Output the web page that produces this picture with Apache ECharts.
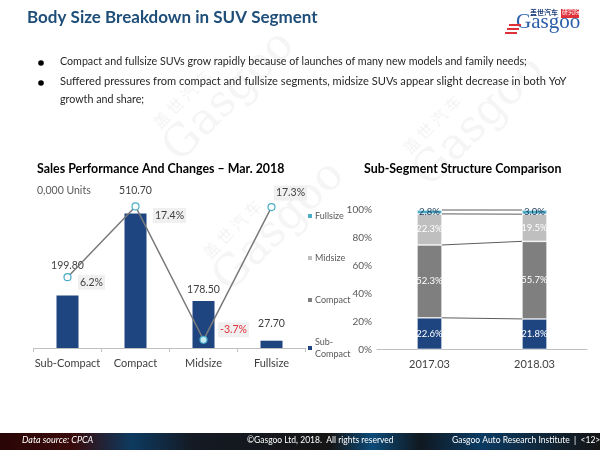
<!DOCTYPE html>
<html><head><meta charset="utf-8">
<script src="https://cdn.jsdelivr.net/npm/echarts@6/dist/echarts.min.js"></script>
<style>html,body{margin:0;padding:0;background:#fff}#c{width:600px;height:450px}</style>
</head><body><div id="c"></div>
<script>
// ---- data ----
var categories = ['Sub-Compact', 'Compact', 'Midsize', 'Fullsize'];
var salesValues = [199.80, 510.70, 178.50, 27.70];      // 0,000 units
var growthValues = [6.2, 17.4, -3.7, 17.3];             // YoY %
var years = ['2017.03', '2018.03'];
var shareSubCompact = [22.6, 21.8];
var shareCompact = [52.3, 55.7];
var shareMidsize = [22.3, 19.5];
var shareFullsize = [2.8, 3.0];
var shareTicks = ['0%', '20%', '40%', '60%', '80%', '100%'];

// ---- styles (not data) ----
var barLabelDist = [24, 17, 6, 12];
var growthLabelOffset = [[24, 5], [34, 9], [30, -10], [19, -14]];
var FONT = 'Lato, "Open Sans", sans-serif';
var NAVY = '#1f4580', GRAY = '#7f7f7f', LGRAY = '#bfbfbf', CYAN = '#4bacc6';

var chart = echarts.init(document.getElementById('c'), null, {renderer: 'canvas'});

var shareSeries = [
  {name: 'Sub-Compact', vals: shareSubCompact, color: NAVY, lc: '#ffffff'},
  {name: 'Compact', vals: shareCompact, color: GRAY, lc: '#ffffff'},
  {name: 'Midsize', vals: shareMidsize, color: LGRAY, lc: '#ffffff'},
  {name: 'Fullsize', vals: shareFullsize, color: CYAN, lc: '#1f3a5a'}
];
// cumulative boundaries for series lines
var cum = [0, 0];
var boundaries = [];
shareSeries.forEach(function (s) {
  cum = [cum[0] + s.vals[0], cum[1] + s.vals[1]];
  boundaries.push([0, cum[0], cum[1]]);
});

var series = [
  {
    type: 'bar', name: 'sales', xAxisIndex: 0, yAxisIndex: 0,
    data: salesValues.map(function (v, i) {
      return {value: v, label: {distance: barLabelDist[i]}};
    }),
    barWidth: 22, itemStyle: {color: NAVY},
    label: {show: true, position: 'top', formatter: function (p) { return p.value.toFixed(2); },
      fontFamily: FONT, fontSize: 10.5, color: '#404040'}
  },
  {
    type: 'line', name: 'growth', xAxisIndex: 0, yAxisIndex: 1,
    data: growthValues.map(function (v, i) {
      return {value: v, label: {offset: growthLabelOffset[i], color: v < 0 ? '#e0303a' : '#404040'},
        itemStyle: v < 0 ? {color: '#c8ecf5'} : undefined};
    }),
    lineStyle: {color: '#7a7a7a', width: 1.5},
    symbol: 'circle', symbolSize: 7,
    itemStyle: {color: '#ffffff', borderColor: CYAN, borderWidth: 1.2},
    label: {show: true, position: 'inside', formatter: function (p) { return p.value.toFixed(1) + '%'; },
      fontFamily: FONT, fontSize: 10.5, backgroundColor: '#f0f0f0', padding: [2, 2]},
    z: 5
  }
];
shareSeries.forEach(function (s) {
  series.push({
    type: 'bar', name: s.name, stack: 'share', xAxisIndex: 1, yAxisIndex: 2,
    data: s.vals, barWidth: 25,
    itemStyle: {color: s.color, borderColor: '#ffffff', borderWidth: 0.6},
    label: {show: true, position: 'inside', formatter: function (p) { return p.value.toFixed(1) + '%'; },
      fontFamily: FONT, fontSize: 9.5, color: s.lc}
  });
});
series.push({
  type: 'custom', name: 'serieslines', xAxisIndex: 1, yAxisIndex: 2,
  data: boundaries, encode: {x: 0, y: 1}, z: 10, silent: true,
  renderItem: function (params, api) {
    var a = api.coord([0, api.value(1)]);
    var b = api.coord([1, api.value(2)]);
    return {type: 'line', shape: {x1: a[0] + 12.5, y1: a[1], x2: b[0] - 12.5, y2: b[1]},
      style: {stroke: '#333333', lineWidth: 0.8}};
  }
});

var wm = function (x, y) {
  return {type: 'group', x: x, y: y, rotation: Math.PI / 4, silent: true, z: -1, children: [
    {type: 'text', x: 0, y: 0, style: {text: '盖 世 汽 车', fontSize: 16, fontFamily: '"Noto Sans CJK SC"', fill: 'rgba(160,160,160,0.13)'}},
    {type: 'text', x: -10, y: 18, style: {text: 'Gasgoo', fontSize: 44, fontFamily: '"DejaVu Serif", serif', fill: 'rgba(160,160,160,0.11)'}}
  ]};
};

chart.setOption({
  animation: false,
  textStyle: {fontFamily: FONT},
  grid: [
    {left: 33.5, top: 190, width: 272, height: 158},
    {left: 377, top: 210, width: 210, height: 139.3}
  ],
  xAxis: [
    {gridIndex: 0, type: 'category', data: categories,
      axisLine: {lineStyle: {color: '#bfbfbf'}}, axisTick: {show: true, length: 4, lineStyle: {color: '#bfbfbf'}},
      axisLabel: {color: '#404040', fontSize: 11, fontFamily: FONT, margin: 10, interval: 0}},
    {gridIndex: 1, type: 'category', data: years,
      axisLine: {lineStyle: {color: '#bfbfbf'}}, axisTick: {show: false},
      axisLabel: {color: '#404040', fontSize: 11, fontFamily: FONT, margin: 10, interval: 0}}
  ],
  yAxis: [
    {gridIndex: 0, type: 'value', min: 0, max: 600, show: false},
    {gridIndex: 0, type: 'value', min: -5, max: 20, show: false},
    {gridIndex: 1, type: 'value', min: 0, max: 100, interval: 20,
      axisLine: {show: false}, axisTick: {show: false}, splitLine: {show: false},
      axisLabel: {color: '#595959', fontSize: 10, fontFamily: FONT, margin: 5,
        formatter: function (v) { return shareTicks[v / 20]; }}}
  ],
  legend: {
    data: ['Fullsize', 'Midsize', 'Compact', 'Sub-Compact'],
    orient: 'vertical', left: 301, top: 205, itemGap: 30,
    itemWidth: 6, itemHeight: 6, icon: 'rect',
    formatter: function (n) { return n === 'Sub-Compact' ? 'Sub-\nCompact' : n; },
    textStyle: {color: '#595959', fontSize: 9, fontFamily: FONT, padding: [0, 0, 0, -3], lineHeight: 12}
  },
  series: series,
  graphic: [
    wm(150, 120), wm(200, 250), wm(400, 145),
    {type: 'text', left: 27, top: 9, style: {text: 'Body Size Breakdown in SUV Segment', fontSize: 17, fontWeight: 'bold', fontFamily: FONT, fill: '#1f4e79'}},
    // logo
    {type: 'text', left: 530, top: 9, style: {text: '盖世汽车', fontSize: 7, fontWeight: 'bold', fontFamily: '"Noto Sans CJK SC"', fill: '#1f3f7a'}},
    {type: 'rect', left: 561, top: 9, shape: {width: 18, height: 9}, style: {fill: '#e0303a'}},
    {type: 'text', left: 562, top: 9, style: {text: '研究院', fontSize: 6, fontFamily: '"Noto Sans CJK SC"', fill: '#ffffff'}},
    {type: 'text', left: 516, top: 12, style: {text: 'Gasgoo', fontSize: 21, fontFamily: '"Liberation Serif", serif', fill: '#2a5ea8'}},
    {type: 'rect', left: 509, top: 24, shape: {width: 12, height: 2}, style: {fill: '#e0303a'}},
    {type: 'rect', left: 507, top: 28, shape: {width: 12, height: 2}, style: {fill: '#e0303a'}},
    {type: 'rect', left: 505, top: 32, shape: {width: 12, height: 2}, style: {fill: '#e0303a'}},
    // bullets
    {type: 'circle', shape: {cx: 41, cy: 63, r: 2.8}, style: {fill: '#000'}},
    {type: 'circle', shape: {cx: 41, cy: 83, r: 2.8}, style: {fill: '#000'}},
    {type: 'text', x: 60, y: 56, style: {text: 'Compact and fullsize SUVs grow rapidly because of launches of many new models and family needs;', fontSize: 10.7, fontFamily: FONT, fill: '#262626'}},
    {type: 'text', x: 60, y: 76, scaleX: 1.04, style: {text: 'Suffered pressures from compact and fullsize segments, midsize SUVs appear slight decrease in both YoY', fontSize: 10.7, fontFamily: FONT, fill: '#262626'}},
    {type: 'text', x: 60, y: 94, style: {text: 'growth and share;', fontSize: 10.7, fontFamily: FONT, fill: '#262626'}},
    // chart titles
    {type: 'text', left: 37, top: 163, style: {text: 'Sales Performance And Changes – Mar. 2018', fontSize: 12.4, fontWeight: 'bold', fontFamily: FONT, fill: '#000'}},
    {type: 'text', left: 37, top: 185, style: {text: '0,000 Units', fontSize: 10.5, fontFamily: FONT, fill: '#595959'}},
    {type: 'text', left: 364, top: 163, style: {text: 'Sub-Segment Structure Comparison', fontSize: 12.4, fontWeight: 'bold', fontFamily: FONT, fill: '#000'}},
    // footer
    {type: 'rect', left: 0, top: 433, shape: {width: 600, height: 17}, style: {fill: new echarts.graphic.LinearGradient(0, 0, 1, 0, [
      {offset: 0, color: '#2a0606'}, {offset: 0.12, color: '#3a0a0a'}, {offset: 0.22, color: '#0d3a60'}, {offset: 0.32, color: '#141a24'},
      {offset: 0.55, color: '#151515'}, {offset: 0.62, color: '#0c4a78'}, {offset: 0.7, color: '#101820'}, {offset: 0.8, color: '#0b3a62'}, {offset: 1, color: '#141414'}])}},
    {type: 'text', left: 22, top: 436, style: {text: 'Data source: CPCA', fontSize: 9, fontStyle: 'italic', fontFamily: FONT, fill: '#ffffff'}},
    {type: 'text', left: 247, top: 436, style: {text: '©Gasgoo Ltd, 2018.  All rights reserved', fontSize: 8.5, fontFamily: FONT, fill: '#ffffff'}},
    {type: 'text', left: 452, top: 436, style: {text: 'Gasgoo Auto Research Institute  |  <12>', fontSize: 8.5, fontFamily: FONT, fill: '#ffffff'}}
  ]
});
</script></body></html>
